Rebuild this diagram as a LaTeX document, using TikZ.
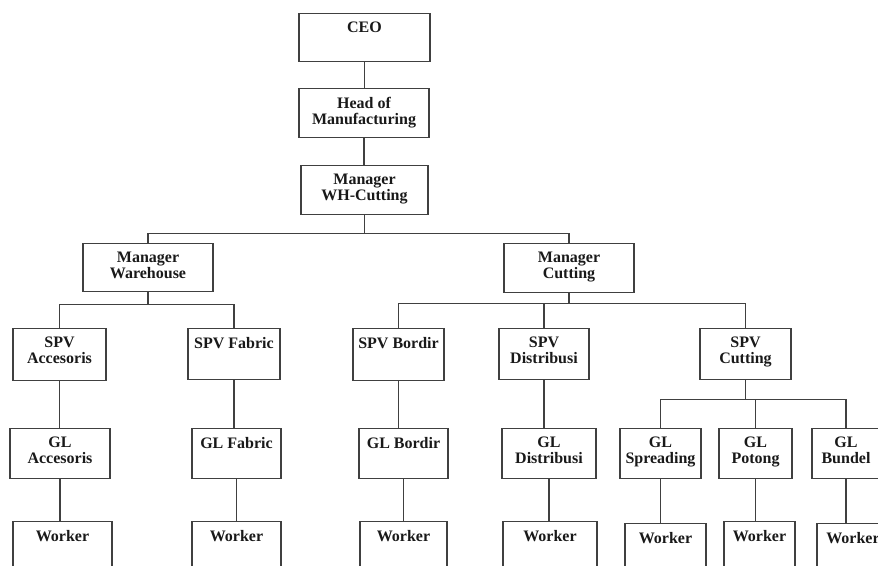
\documentclass[tikz,border=0pt]{standalone}
\usepackage{fontspec}
\setmainfont{Liberation Serif}

\tikzset{
  orgtext/.style={anchor=north, align=center, inner xsep=2pt, inner ysep=6.6pt,
    text=black!90, font=\fontsize{12}{11.8}\selectfont\bfseries},
  orgbox/.style n args={3}{draw=black!75, line width=0.8pt, anchor=north,
    minimum width=#1*0.75pt, minimum height=#2*0.75pt, inner sep=0pt,
    label={[orgtext]north:{#3}}},
  link/.style={draw=black!75, line width=0.8pt},
}

\begin{document}
\begin{tikzpicture}[x=0.75pt,y=-0.75pt]
  \clip (0,0) rectangle (878,566);

  % Top of the chart
  \node[orgbox={131}{48}{CEO}] (ceo) at (364.5,13) {};
  \node[orgbox={130}{49}{Head of\\Manufacturing}] (hom) at (364,88) {};
  \node[orgbox={127}{49}{Manager\\WH-Cutting}] (mwh) at (364.5,165) {};

  % Managers
  \node[orgbox={130}{48}{Manager\\Warehouse}] (mgrw) at (148,243) {};
  \node[orgbox={130}{49}{Manager\\Cutting}] (mgrc) at (569,243) {};

  % Supervisors
  \node[orgbox={93}{52}{SPV\\Accesoris}] (spva) at (59.5,328) {};
  \node[orgbox={92}{51}{SPV Fabric}] (spvf) at (234,328) {};
  \node[orgbox={91}{52}{SPV Bordir}] (spvb) at (398.5,328) {};
  \node[orgbox={90}{51}{SPV\\Distribusi}] (spvd) at (544,328) {};
  \node[orgbox={91}{51}{SPV\\Cutting}] (spvc) at (745.5,328) {};

  % Group leaders
  \node[orgbox={100}{50}{GL\\Accesoris}] (gla) at (60,428) {};
  \node[orgbox={89}{50}{GL Fabric}] (glf) at (236.5,428) {};
  \node[orgbox={89}{50}{GL Bordir}] (glb) at (403.5,428) {};
  \node[orgbox={94}{50}{GL\\Distribusi}] (gld) at (549,428) {};
  \node[orgbox={81}{50}{GL\\Spreading}] (gls) at (660.5,428) {};
  \node[orgbox={73}{50}{GL\\Potong}] (glp) at (755.5,428) {};
  \node[orgbox={68}{50}{GL\\Bundel}] (glbu) at (846,428) {};

  % Workers (cut off at the bottom)
  \node[orgbox={99}{60}{Worker}] (wa) at (62.5,521) {};
  \node[orgbox={89}{60}{Worker}] (wf) at (236.5,521) {};
  \node[orgbox={87}{60}{Worker}] (wb) at (403.5,521) {};
  \node[orgbox={94}{60}{Worker}] (wd) at (550,521) {};
  \node[orgbox={81}{60}{Worker}] (ws) at (665.5,523) {};
  \node[orgbox={71}{60}{Worker}] (wp) at (759.5,521) {};
  \node[orgbox={72}{60}{Worker}] (wbu) at (853,523) {};

  % Straight links
  \draw[link] (ceo.south) -- (ceo.south |- hom.north);
  \draw[link] (hom.south) -- (hom.south |- mwh.north);

  % Branches
  \draw[link] (mwh.south) -- ++(0,18) -| (mgrw.north);
  \draw[link] (mwh.south) -- ++(0,18) -| (mgrc.north);
  \draw[link] (mgrw.south) -- ++(0,12) -| (spva.north);
  \draw[link] (mgrw.south) -- ++(0,12) -| (spvf.north);
  \draw[link] (mgrc.south) -- ++(0,10) -| (spvb.north);
  \draw[link] (mgrc.south) -- ++(0,10) -| (spvd.north);
  \draw[link] (mgrc.south) -- ++(0,10) -| (spvc.north);
  \draw[link] (spvc.south) -- ++(0,19) -| (gls.north);
  \draw[link] (spvc.south) -- ++(0,19) -| (glp.north);
  \draw[link] (spvc.south) -- ++(0,19) -| (glbu.north);

  % Supervisor to group leader
  \draw[link] (spva.south) -- (spva.south |- gla.north);
  \draw[link] (spvf.south) -- (spvf.south |- glf.north);
  \draw[link] (spvb.south) -- (spvb.south |- glb.north);
  \draw[link] (spvd.south) -- (spvd.south |- gld.north);

  % Group leader to worker
  \draw[link] (gla.south) -- (gla.south |- wa.north);
  \draw[link] (glf.south) -- (glf.south |- wf.north);
  \draw[link] (glb.south) -- (glb.south |- wb.north);
  \draw[link] (gld.south) -- (gld.south |- wd.north);
  \draw[link] (gls.south) -- (gls.south |- ws.north);
  \draw[link] (glp.south) -- (glp.south |- wp.north);
  \draw[link] (glbu.south) -- (glbu.south |- wbu.north);
\end{tikzpicture}
\end{document}
